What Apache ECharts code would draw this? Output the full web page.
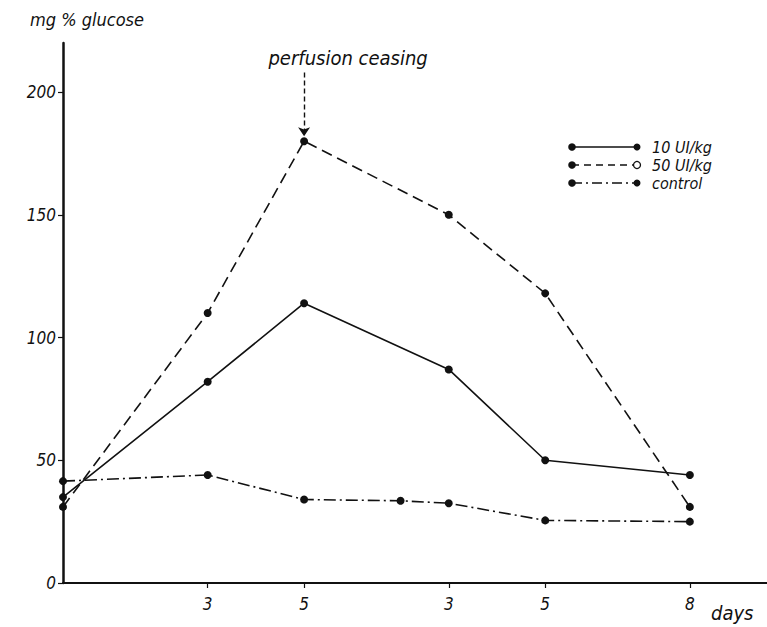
<!DOCTYPE html>
<html>
<head>
<meta charset="utf-8">
<script src="https://cdn.jsdelivr.net/npm/echarts@6/dist/echarts.min.js"></script>
<style>
html, body { margin: 0; padding: 0; background: #fff; }
#chart { width: 767px; height: 627px; }
</style>
</head>
<body>
<div id="chart"></div>
<script>
// days since start of perfusion (perfusion stops at day 5)
var days = [0, 3, 5, 8, 10, 13];
var ui10 = [35, 82, 114, 87, 50, 44];
var ui50 = [31, 110, 180, 150, 118, 31];
var controlDays = [0, 3, 5, 7, 8, 10, 13];
var control = [41.5, 44, 34, 33.5, 32.5, 25.5, 25];

var tickDays = [3, 5, 8, 10, 13];
var tickLabels = ['3', '5', '3', '5', '8'];
var yTicks = [0, 50, 100, 150, 200];

var ceaseDay = 5;
var ceaseArrow = [208, 182];

var FONT = "'DejaVu Sans Condensed', 'DejaVu Sans', sans-serif";
var INK = '#111';

function pairs(xs, ys) {
    return xs.map(function (x, i) { return [x, ys[i]]; });
}

var myChart = echarts.init(document.getElementById('chart'), null, { renderer: 'svg' });

// legend drawn by hand: line sample with a dot at each end
function legendRow(y, dash, hollowEnd, text) {
    return {
        type: 'group',
        children: [
            { type: 'line', shape: { x1: 572, y1: y, x2: 637, y2: y },
              style: { stroke: INK, lineWidth: 1.5, lineDash: dash } },
            { type: 'circle', shape: { cx: 572, cy: y, r: 3.8 }, style: { fill: INK } },
            { type: 'circle', shape: { cx: 637, cy: y, r: 3.5 },
              style: hollowEnd ? { fill: '#fff', stroke: INK, lineWidth: 1.3 } : { fill: INK } },
            { type: 'text', x: 652, y: y,
              style: { text: text, fill: INK, font: 'italic 16px ' + FONT, textVerticalAlign: 'middle' } }
        ]
    };
}

var option = {
    animation: false,
    backgroundColor: '#fff',
    grid: { left: 63, right: 0, top: 43, bottom: 44 },
    xAxis: {
        type: 'value',
        min: 0,
        max: 14.6,
        splitLine: { show: false },
        axisLine: { show: true, lineStyle: { color: INK, width: 2 } },
        axisTick: { show: true, length: 5, lineStyle: { color: INK, width: 1.2 }, customValues: tickDays },
        axisLabel: {
            customValues: tickDays,
            margin: 12,
            color: INK,
            fontSize: 17,
            fontStyle: 'italic',
            fontFamily: FONT,
            formatter: function (v) {
                var i = tickDays.indexOf(v);
                return i >= 0 ? tickLabels[i] : '';
            }
        }
    },
    yAxis: {
        type: 'value',
        min: 0,
        max: 220,
        splitLine: { show: false },
        axisLine: { show: true, lineStyle: { color: INK, width: 2.5 } },
        axisTick: { show: true, length: 5, lineStyle: { color: INK, width: 1.2 }, customValues: yTicks },
        axisLabel: {
            customValues: yTicks,
            margin: 7,
            color: INK,
            fontSize: 17,
            fontStyle: 'italic',
            fontFamily: FONT
        }
    },
    graphic: [
        { type: 'text', left: 30, top: 10,
          style: { text: 'mg % glucose', fill: INK, font: 'italic 18px ' + FONT } },
        { type: 'text', left: 711, top: 603,
          style: { text: 'days', fill: INK, font: 'italic 20px ' + FONT } },
        legendRow(147, null, false, '10 UI/kg'),
        legendRow(165, [7, 5], true, '50 UI/kg'),
        legendRow(183, [10, 4, 2, 4], false, 'control')
    ],
    series: [
        {
            name: '10 UI/kg',
            type: 'line',
            data: pairs(days, ui10),
            symbol: 'circle',
            symbolSize: 8,
            itemStyle: { color: INK },
            lineStyle: { color: INK, width: 1.6, type: 'solid' }
        },
        {
            name: '50 UI/kg',
            type: 'line',
            data: pairs(days, ui50),
            symbol: 'circle',
            symbolSize: 8,
            itemStyle: { color: INK },
            lineStyle: { color: INK, width: 1.6, type: [11, 6] },
            markLine: {
                silent: true,
                symbol: ['none', 'arrow'],
                symbolSize: 9,
                lineStyle: { color: INK, width: 1.4, type: [5, 3] },
                label: {
                    show: true,
                    position: 'start',
                    distance: 4,
                    offset: [44, 0],
                    formatter: 'perfusion ceasing',
                    color: INK,
                    fontSize: 20,
                    fontStyle: 'italic',
                    fontFamily: FONT
                },
                data: [[{ coord: [ceaseDay, ceaseArrow[0]] }, { coord: [ceaseDay, ceaseArrow[1]] }]]
            }
        },
        {
            name: 'control',
            type: 'line',
            data: pairs(controlDays, control),
            symbol: 'circle',
            symbolSize: 8,
            itemStyle: { color: INK },
            lineStyle: { color: INK, width: 1.6, type: [12, 4, 2, 4] }
        }
    ]
};

myChart.setOption(option);
</script>
</body>
</html>
